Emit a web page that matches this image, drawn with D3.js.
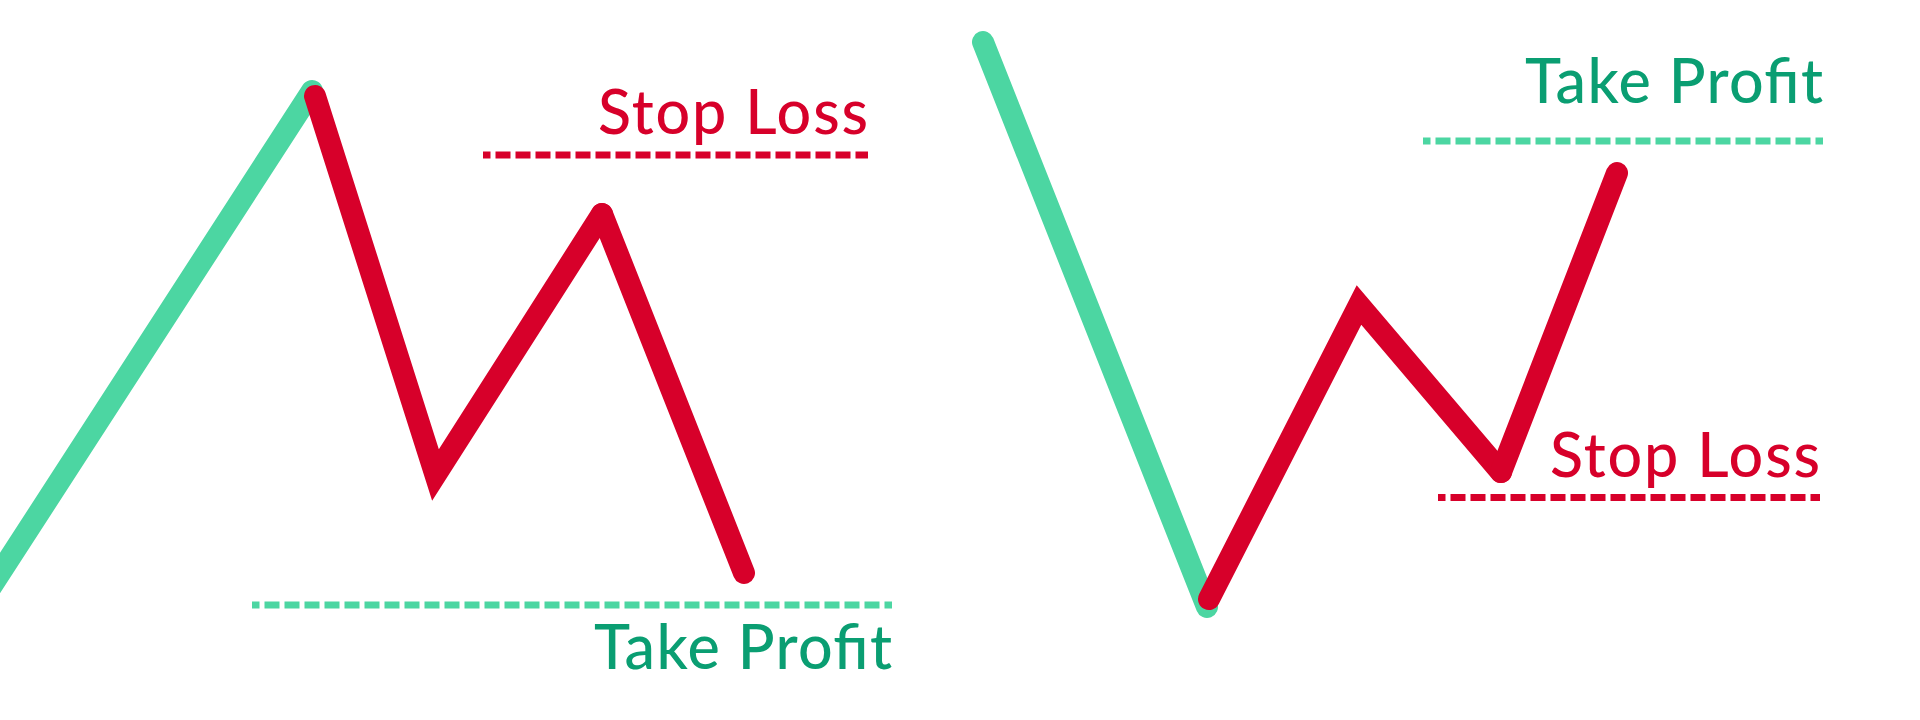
<!DOCTYPE html>
<html>
<head>
<meta charset="utf-8">
<script src="https://cdn.jsdelivr.net/npm/d3@7.9.0/dist/d3.min.js"></script>
<style>
  html, body { margin: 0; padding: 0; background: #fff; }
  svg { display: block; }
  .label { font-family: Lato, "Open Sans", sans-serif; font-size: 61px; font-weight: 500; }
</style>
</head>
<body>
<svg id="chart" width="1920" height="720"></svg>
<script>
// price path points: [time, price]
const leftTrend = [[-1, 5.8], [15.6, 31.45]];
const leftMove = [[15.75, 31.2], [21.775, 12.25], [30.1, 25.3], [37.2, 7.35]];
const rightTrend = [[49.15, 33.9], [60.35, 5.65]];
const rightMove = [[60.45, 6.05], [67.95, 20.75], [75.05, 12.4], [80.85, 27.35]];

// horizontal levels: price, from, to
const levelNames = ["Stop Loss", "Take Profit", "Take Profit", "Stop Loss"];
const levelKinds = ["stop", "take", "take", "stop"];
const levelPrices = [28.25, 5.75, 28.95, 11.125];
const levelFrom = [24.15, 12.6, 71.15, 71.9];
const levelTo = [43.4, 44.6, 91.15, 91.0];
// label baseline offset from the level (price units)
const labelOffsets = [1.05, -3.2, 1.9, 1.05];

const red = "#d7002a";
const green = "#4cd6a2";
const greenText = "#0a9e72";

const width = 1920, height = 720;
const svg = d3.select("#chart");

const x = d3.scaleLinear().domain([0, 96]).range([0, width]);
const y = d3.scaleLinear().domain([0, 36]).range([height, 0]);

const line = d3.line().x(d => x(d[0])).y(d => y(d[1]));

// levels first so the price lines sit on top
const levels = levelPrices.map((p, i) => ({
  name: levelNames[i], kind: levelKinds[i], price: p,
  from: levelFrom[i], to: levelTo[i], off: labelOffsets[i]
}));

svg.selectAll("line.level")
  .data(levels)
  .enter()
  .append("line")
  .attr("class", "level")
  .attr("x1", d => x(d.from))
  .attr("x2", d => x(d.to))
  .attr("y1", d => y(d.price))
  .attr("y2", d => y(d.price))
  .attr("stroke", d => d.kind === "stop" ? red : green)
  .attr("stroke-width", 7)
  .attr("stroke-dasharray", "15 5")
  .attr("stroke-dashoffset", 7.5);

// the original font is wider than Lato, so stretch the spacing a bit
svg.selectAll("text.label")
  .data(levels)
  .enter()
  .append("text")
  .attr("class", "label")
  .attr("x", d => x(d.to))
  .attr("y", d => y(d.price + d.off))
  .attr("text-anchor", "end")
  .attr("textLength", d => d.kind === "stop" ? 270 : 298)
  .attr("lengthAdjust", "spacing")
  .attr("fill", d => d.kind === "stop" ? red : greenText)
  .text(d => d.name);

// trend lines (green)
svg.selectAll("path.trend")
  .data([leftTrend, rightTrend])
  .enter()
  .append("path")
  .attr("class", "trend")
  .attr("d", line)
  .attr("fill", "none")
  .attr("stroke", green)
  .attr("stroke-width", 22)
  .attr("stroke-linecap", "round")
  .attr("stroke-linejoin", "round");

// the move after the trend (red) - sharp corner first, then a rounded one
const roundAt = 2;
const pieces = [];
[leftMove, rightMove].forEach(m => {
  pieces.push(m.slice(0, roundAt + 1));
  pieces.push(m.slice(roundAt));
});

svg.selectAll("path.move")
  .data(pieces)
  .enter()
  .append("path")
  .attr("class", "move")
  .attr("d", line)
  .attr("fill", "none")
  .attr("stroke", red)
  .attr("stroke-width", 22)
  .attr("stroke-linecap", "round")
  .attr("stroke-linejoin", "miter")
  .attr("stroke-miterlimit", 10);
</script>
</body>
</html>
